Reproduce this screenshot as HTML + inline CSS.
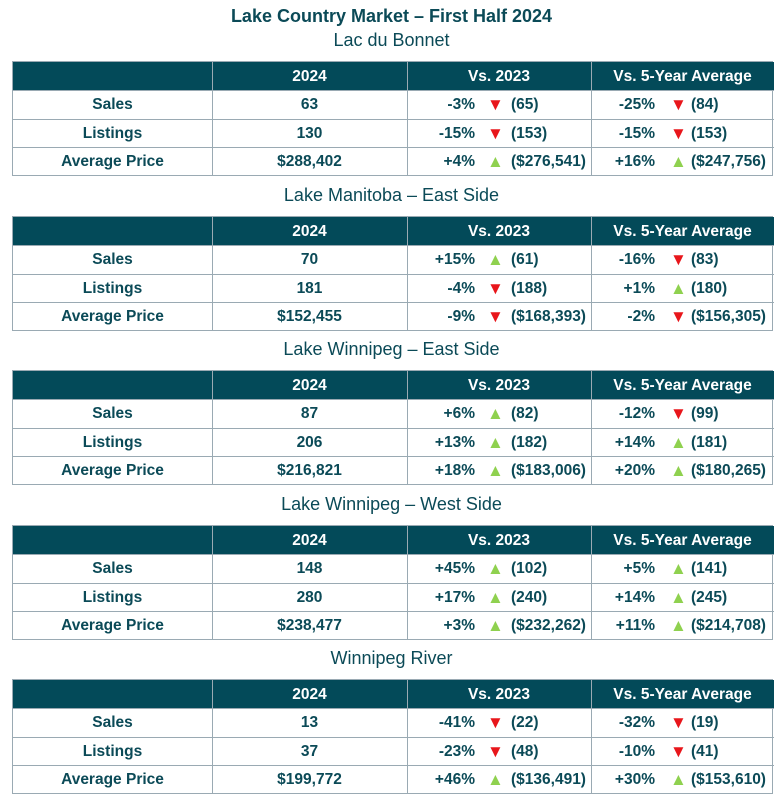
<!DOCTYPE html>
<html><head><meta charset="utf-8">
<style>
body{margin:0;width:783px;height:798px;background:#fff;font-family:"Liberation Sans",Arial,sans-serif;color:#0b4a57;position:relative;overflow:hidden}
.title{position:absolute;left:0;width:783px;text-align:center;font-weight:bold;font-size:18px;top:6px}
.sub{position:absolute;left:0;width:783px;text-align:center;font-size:18px}
.tbl{position:absolute;left:12px;width:761px;border:1px solid #9aaab3;box-sizing:border-box}
.row{position:absolute;left:0;width:761px;height:28px}
.hdr{background:#034a59;color:#fff}
.cell{position:absolute;top:1px;height:28px;line-height:28px;font-weight:bold;font-size:15.5px;text-align:center;box-sizing:border-box}
.vl{position:absolute;top:0;width:1px;background:#9aaab3}
.hl{position:absolute;left:0;width:761px;height:1px;background:#9aaab3}
.pct{position:absolute;top:1px;line-height:28px;font-weight:bold;font-size:15.5px;text-align:right}
.arr{position:absolute;top:1px;line-height:28px;font-size:17px}
.val{position:absolute;top:1px;line-height:28px;font-weight:bold;font-size:15.5px}
</style></head><body>
<div class="title">Lake Country Market – First Half 2024</div>
<div id="root"></div>
<script>
const regions=["Lac du Bonnet","Lake Manitoba – East Side","Lake Winnipeg – East Side","Lake Winnipeg – West Side","Winnipeg River"];
const rowLabels=["Sales","Listings","Average Price"];
const headers=["","2024","Vs. 2023","Vs. 5-Year Average"];
const current=[["63","130","$288,402"],["70","181","$152,455"],["87","206","$216,821"],["148","280","$238,477"],["13","37","$199,772"]];
const vs2023Pct=[["-3%","-15%","+4%"],["+15%","-4%","-9%"],["+6%","+13%","+18%"],["+45%","+17%","+3%"],["-41%","-23%","+46%"]];
const vs2023Val=[["(65)","(153)","($276,541)"],["(61)","(188)","($168,393)"],["(82)","(182)","($183,006)"],["(102)","(240)","($232,262)"],["(22)","(48)","($136,491)"]];
const vs5Pct=[["-25%","-15%","+16%"],["-16%","+1%","-2%"],["-12%","+14%","+20%"],["+5%","+14%","+11%"],["-32%","-10%","+30%"]];
const vs5Val=[["(84)","(153)","($247,756)"],["(83)","(180)","($156,305)"],["(99)","(181)","($180,265)"],["(141)","(245)","($214,708)"],["(19)","(41)","($153,610)"]];

const root=document.getElementById('root');
const colX=[0,199,394,578,761];
const rowTops=[0,28,57,85];
function mk(cls,parent){const e=document.createElement('div');e.className=cls;parent.appendChild(e);return e;}
regions.forEach((reg,ri)=>{
  const base=ri*154.5;
  const s=mk('sub',root);s.textContent=reg;s.style.top=(base+30)+'px';
  
  
  const t=mk('tbl',root);t.style.top=(base+61)+'px';t.style.height='115px';
  
  
  const h=mk('row hdr',t);h.style.top='0px';
  
  
  headers.forEach((hd,ci)=>{const c=mk('cell',h);c.style.left=colX[ci]+'px';c.style.width=(colX[ci+1]-colX[ci])+'px';c.textContent=hd;
    
    });
  rowLabels.forEach((lab,r)=>{
    const row=mk('row',t);row.style.top=rowTops[r+1]+'px';
    
    
    const l=mk('cell',row);l.style.left='0px';l.style.width='199px';l.textContent=lab;
    
    
    const c=mk('cell',row);c.style.left='199px';c.style.width='195px';c.textContent=current[ri][r];
    
    
    [[vs2023Pct,vs2023Val,394,68,80,104],[vs5Pct,vs5Val,578,64,79,100]].forEach(([P,V,x0,pw,ax,vx])=>{
      const p=mk('pct',row);p.style.left=x0+'px';p.style.width=pw+'px';p.textContent=P[ri][r];
      
      
      const up=P[ri][r][0]==='+';
      const a=mk('arr',row);a.style.left=(x0+ax)+'px';a.textContent=up?'▲':'▼';a.style.color=up?'#8fd14f':'#e8161b';
      
      
      const v=mk('val',row);v.style.left=(x0+vx)+'px';v.textContent=V[ri][r];
      
      
    });
  });
  [28,57,85].forEach(y=>{const e=mk('hl',t);e.style.top=y+'px';});
  [199,394,578].forEach(x=>{const e=mk('vl',t);e.style.left=x+'px';e.style.top='0px';e.style.height='113px';});
});
</script>
</body></html>
